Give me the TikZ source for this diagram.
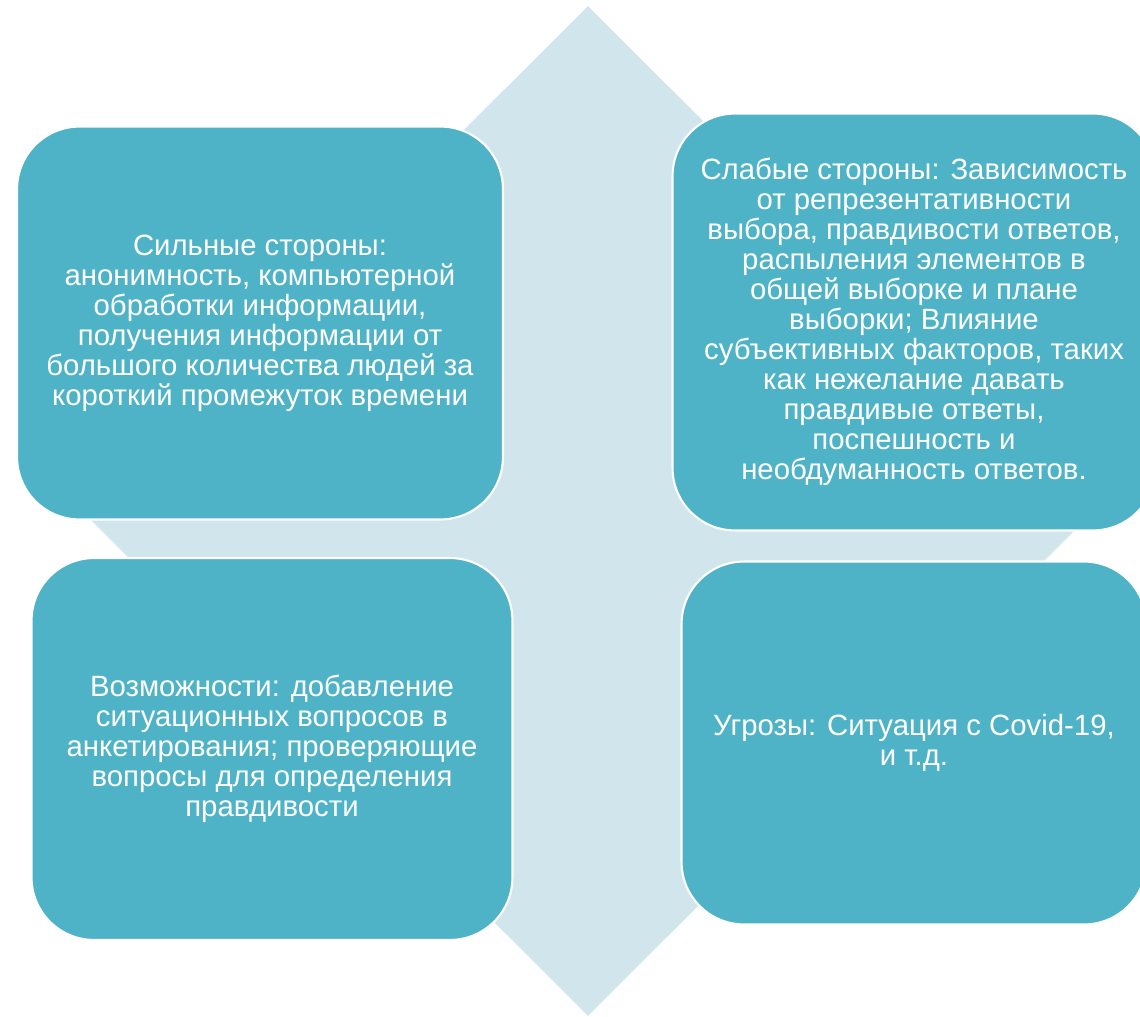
\documentclass[tikz,border=0pt]{standalone}
\usepackage{fontspec}
\setmainfont{Liberation Sans}
\usetikzlibrary{shapes.geometric}
\definecolor{turq}{RGB}{79,179,200}
\definecolor{gris}{RGB}{208,229,236}
\begin{document}
\begin{tikzpicture}[x=0.02cm,y=-0.02cm]
      \tikzstyle{losange}=[diamond, fill=gris, inner sep=0pt, minimum width=20.26cm, minimum height=20.2cm]
      \tikzstyle{boite}=[draw=white, line width=1.2pt, fill=turq, rounded corners=1.25cm, text=white, align=center, font=\fontsize{16.7}{17.1}\selectfont]
      \useasboundingbox (0,0) rectangle (1140,1017);

      \node[losange] (Romb) at (588,511) {};
      \node[boite, minimum width=9.72cm, minimum height=7.86cm] (Sil) at (260,323) {Сильные стороны:\\анонимность, компьютерной\\обработки информации,\\получения информации от\\большого количества людей за\\короткий промежуток времени};
      \node[boite, minimum width=9.66cm, minimum height=8.34cm] (Slab) at (914,322) {Слабые стороны: Зависимость\\от репрезентативности\\выбора, правдивости ответов,\\распыления элементов в\\общей выборке и плане\\выборки; Влияние\\субъективных факторов, таких\\как нежелание давать\\правдивые ответы,\\поспешность и\\необдуманность ответов.};
      \node[boite, minimum width=9.62cm, minimum height=7.64cm] (Vozm) at (272,749) {Возможности: добавление\\ситуационных вопросов в\\анкетирования; проверяющие\\вопросы для определения\\правдивости};
      \node[boite, minimum width=9.3cm, minimum height=7.26cm] (Ugr) at (914,743) {Угрозы: Ситуация с Covid-19,\\и т.д.};

    \end{tikzpicture}
\end{document}
